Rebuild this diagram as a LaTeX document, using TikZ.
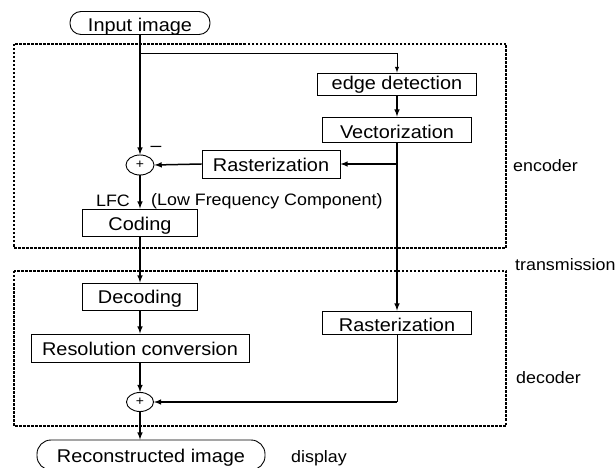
\documentclass[tikz,border=0pt]{standalone}
\usepackage{fontspec}
\setmainfont{Liberation Sans}[FakeStretch=1.08]
\usetikzlibrary{positioning,shapes.geometric}
\tikzset{
    stage/.style={draw,line width=0.9bp,inner sep=0pt,text height=16bp,text depth=0pt,font=\fontsize{18.5}{20}\selectfont},
    terminal/.style={stage,rounded corners=11bp},
    adder/.style={draw,ellipse,line width=0.9bp,inner sep=0pt,minimum width=28bp,minimum height=20bp,font=\fontsize{13}{14}\selectfont},
    flow/.style={line width=1.5bp,-latex},
    thinflow/.style={line width=1bp},
    region/.style={line width=1.1bp,dash pattern=on 2.5bp off 1.5bp},
    note/.style={font=\fontsize{16.6}{18}\selectfont,inner sep=0pt}
}
\def\xl{14}
\def\xr{506}

\begin{document}
\begin{tikzpicture}[x=1bp,y=-1bp]
  \useasboundingbox (0,0) rectangle (616,468);

  % Regions
  \draw[region] (\xl,44) rectangle (\xr,248);
  \draw[region] (\xl,271) rectangle (\xr,426);
  \node[note,anchor=west] (enc) at (513,166) {encoder};
  \node[note,anchor=west] (trans) at (515,265) {transmission};
  \node[note,anchor=west] (dec) at (516,378) {decoder};
  \node[note,anchor=west] (disp) at (291,458) {display};

  % Stages
  \node[terminal,text height=17bp,minimum width=140bp,minimum height=23bp] (input) at (140,23) {Input image};
  \node[stage,text height=12bp,minimum width=159bp,minimum height=22bp] (edge) at (397,84) {edge detection};
  \node[stage,text height=17.5bp,minimum width=149bp,minimum height=25bp] (vect) at (397,129.5) {Vectorization};
  \node[stage,minimum width=138bp,minimum height=28bp] (rasE) at (271,164) {Rasterization};
  \node[adder] (sumE) at (140,165) {+};
  \node[stage,text height=17bp,minimum width=115bp,minimum height=27bp] (coding) at (140,222.5) {Coding};
  \node[stage,text height=14bp,minimum width=115bp,minimum height=27bp] (decoding) at (140,296.5) {Decoding};
  \node[stage,text height=14bp,minimum width=218bp,minimum height=28bp] (resol) at (140,348) {Resolution conversion};
  \node[stage,text height=18bp,minimum width=149bp,minimum height=23bp] (rasD) at (397,322.5) {Rasterization};
  \node[adder,minimum width=27bp,minimum height=19bp] (sumD) at (140,402) {+};
  \node[terminal,text height=14bp,rounded corners=14bp,minimum width=228bp,minimum height=30bp] (recon) at (151,455) {Reconstructed image};

  % Labels
  \node[font=\fontsize{18}{18}\selectfont,inner sep=0pt] (minus) at (156,149) {\textendash};
  \node[note] (lfc) at (113,201) {LFC};
  \node[note,anchor=west] (lfcname) at (151,201) {(Low Frequency Component)};

  % Encoder
  \coordinate (split) at (140,54);
  \draw[flow] (input.south) -- (sumE.north);
  \draw[thinflow,-latex] (split) -| (edge.north);
  \draw[flow] (edge.south) -- (vect.north);
  \draw[flow] (vect.south) -- (rasD.north);
  \draw[flow] (vect.south |- rasE.east) -- (rasE.east);
  \draw[flow] (rasE.west) -- (sumE.east);
  \draw[flow] (sumE.south) -- (coding.north);

  % Decoder
  \draw[flow] (coding.south) -- (decoding.north);
  \draw[flow] (decoding.south) -- (resol.north);
  \draw[flow] (resol.south) -- (sumD.north);
  \draw[thinflow] (rasD.south) -- (rasD.south |- sumD.east);
  \draw[flow] (rasD.south |- sumD.east) -- (sumD.east);
  \draw[flow] (sumD.south) -- (sumD.south |- recon.north);
\end{tikzpicture}
\end{document}
